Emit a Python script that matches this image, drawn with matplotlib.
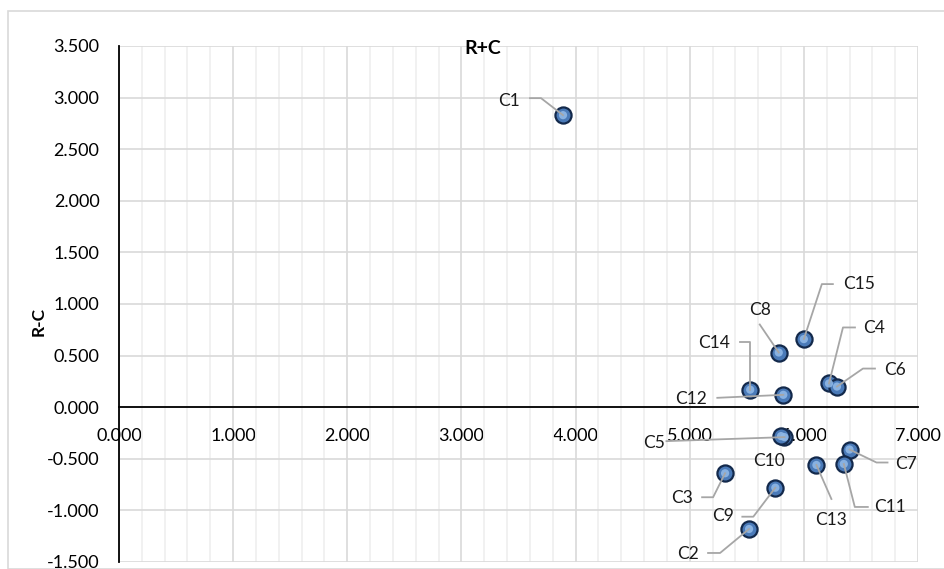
import matplotlib
matplotlib.use("Agg")
import matplotlib.pyplot as plt
from matplotlib.lines import Line2D
from matplotlib.patches import Rectangle
from matplotlib.transforms import IdentityTransform
from matplotlib.ticker import MultipleLocator

plt.rcParams['font.family'] = ['Lato', 'DejaVu Sans']

# data (R+C, R-C)
names = ['C1', 'C2', 'C3', 'C4', 'C5', 'C6', 'C7', 'C8',
         'C9', 'C10', 'C11', 'C12', 'C13', 'C14', 'C15']
r_plus_c = [3.89, 5.52, 5.31, 6.22, 5.83, 6.29, 6.40, 5.78,
            5.75, 5.80, 6.35, 5.82, 6.11, 5.53, 6.00]
r_minus_c = [2.83, -1.18, -0.64, 0.23, -0.29, 0.20, -0.41, 0.53,
             -0.78, -0.28, -0.55, 0.12, -0.56, 0.17, 0.66]

# label placement in pixels relative to the point:
# (text dx, text dy, leader start dx, dy, elbow dx, dy); None = no leader
label_pos = {
    'C1': (-54, 14, -33, 17, -22, 17),
    'C2': (-61, -25, -41, -24, -29, -24),
    'C3': (-43, -25, -23, -24, -12, -24),
    'C4': (45, 55, 26, 56, 14, 56),
    'C5': (-130, -6, -118, -4, -118, -4),
    'C6': (58, 17, 38, 18, 26, 18),
    'C7': (57, -14, 38, -13, 27, -13),
    'C8': (-19, 43, -19, 28, -19, 28),
    'C9': (-52, -28, -33, -29, -22, -29),
    'C10': (-12, -25, None, None, None, None),
    'C11': (46, -43, 24, -43, 11, -43),
    'C12': (-92, -4, -66, -3, -66, -3),
    'C13': (15, -55, 15, -34, 15, -34),
    'C14': (-36, 47, -10, 48, 0, 48),
    'C15': (55, 55, 29, 55, 18, 55),
}


def main():
    fig = plt.figure(figsize=(9.45, 5.69), dpi=100)
    fig.patches.append(Rectangle((8 / 945, 0), 1.0, 1 - 11 / 569,
                                 transform=fig.transFigure, fill=False,
                                 edgecolor='#d9d9d9', lw=1.2))
    ax = fig.add_axes([119 / 945, 1 - 562 / 569, 799 / 945, 516 / 569])
    ax.set_xlim(0, 7)
    ax.set_ylim(-1.5, 3.5)

    ax.xaxis.set_major_locator(MultipleLocator(1))
    ax.xaxis.set_minor_locator(MultipleLocator(0.2))
    ax.yaxis.set_major_locator(MultipleLocator(0.5))
    ax.xaxis.set_major_formatter(lambda v, p: f'{v:.3f}')
    ax.yaxis.set_major_formatter(lambda v, p: f'{v:.3f}')

    ax.grid(which='major', color='#d9d9d9', lw=1.2)
    ax.grid(which='minor', axis='x', color='#efefef', lw=1.2)
    ax.set_axisbelow(True)

    for s in ['top', 'right']:
        ax.spines[s].set_visible(False)
    ax.spines['bottom'].set_position(('data', 0))
    ax.spines['bottom'].set_color('black')
    ax.spines['bottom'].set_linewidth(1.3)
    ax.spines['left'].set_color('black')
    ax.spines['left'].set_linewidth(1.3)
    ax.tick_params(which='both', length=0)
    ax.tick_params(axis='x', pad=15, labelsize=13)
    ax.tick_params(axis='y', pad=14, labelsize=13)

    # markers: dark rim, blue body, light centre
    ax.scatter(r_plus_c, r_minus_c, s=135, color='#4a7ab8',
               edgecolor='#13294b', lw=1.6, zorder=4)
    ax.scatter(r_plus_c, r_minus_c, s=35, color='#8fb8e6',
               edgecolor='none', zorder=5, alpha=0.9)

    fig.canvas.draw()
    for n, x, y in zip(names, r_plus_c, r_minus_c):
        dx, dy, sx, sy, ex, ey = label_pos[n]
        ax.annotate(n, (x, y), xytext=(dx, dy), textcoords='offset pixels',
                    ha='center', va='center', fontsize=12.5, color='#1a1a1a',
                    zorder=6)
        if sx is None:
            continue
        px, py = ax.transData.transform((x, y))
        line = Line2D([px + sx, px + ex, px], [py + sy, py + ey, py],
                      transform=IdentityTransform(), color='#a6a6a6',
                      lw=1.3, zorder=3)
        fig.add_artist(line)

    fig.text(483 / 945, 1 - 48 / 569, 'R+C', ha='center', va='center',
             fontsize=14, fontweight='bold')
    fig.text(39 / 945, 1 - 321 / 569, 'R-C', ha='center', va='center',
             fontsize=12.5, fontweight='bold', rotation=90)

    fig.savefig('out.png', dpi=100)


if __name__ == '__main__':
    main()
